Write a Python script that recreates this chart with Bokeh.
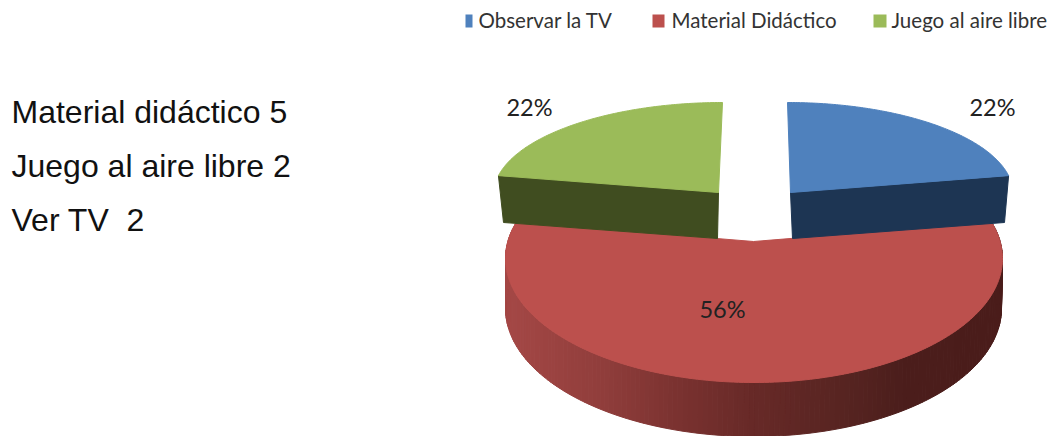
import numpy as np
from bokeh.plotting import figure
from bokeh.models import Range1d
from bokeh.core.properties import value
from bokeh.embed import file_html
from bokeh.resources import INLINE

# data
categories = ["Observar la TV", "Material Didáctico", "Juego al aire libre"]
shares = [22, 56, 22]
pct_labels = ["22%", "56%", "22%"]
note_names = ["Material didáctico", "Juego al aire libre", "Ver TV\u00a0"]
note_counts = [5, 2, 2]

# styles and layout (page pixels of the reference)
top_colors = ["#4F81BD", "#BC504D", "#9BBB59"]
rim_colors = ["#1D3553", None, "#404D20"]
red_rim_stops = [(505, (165, 72, 70)), (600, (145, 62, 60)), (680, (122, 50, 48)),
                 (750, (104, 42, 40)), (850, (86, 36, 33)), (900, (76, 30, 28)),
                 (1003, (74, 28, 26))]
# outer slices: apex, radii, lean of the back edge, bottom of the side face
blue_geo = dict(cx=790, cy=192, rx=222.6, ry=90, lean=-3, ax=792, ay=238, ex=1004, ey=222)
green_geo = dict(cx=718, cy=192, rx=224.8, ry=90, lean=4, ax=717, ay=238, ex=503, ey=222)
# large slice: apex, top ellipse, bottom ellipse, angle added for the perspective
red_geo = dict(ax=753, ay=241, cx=753.5, cy=258, rx=248.5, ry=124,
               bx=753, by=308, brx=248, bry=128, trim=np.radians(6.2))
legend_swatch = [(465, 472), (652, 664), (873, 886)]
legend_text_x = [478, 671, 891]
pct_pos = [(992, 106), (722, 308), (529, 106)]
note_y = [111, 165, 219]

W, H = 1052, 436
p = figure(width=W, height=H, output_backend="svg", toolbar_location=None,
           x_range=Range1d(0, W), y_range=Range1d(H, 0),
           min_border=0, outline_line_color=None, border_fill_color="white",
           background_fill_color="white", tools="")
p.axis.visible = False
p.grid.visible = False

cum = np.cumsum([0] + shares) / sum(shares) * 2 * np.pi
a0, a1 = cum[:-1], cum[1:]

# large slice: gradient rim in strips, then its top
g = red_geo
t = np.linspace(a0[1] - g["trim"], a1[1] + g["trim"], 181)
tx = g["cx"] + g["rx"] * np.sin(t)
ty = g["cy"] - g["ry"] * np.cos(t)
bx = g["bx"] + g["brx"] * np.sin(t)
by = g["by"] - g["bry"] * np.cos(t)
stop_x = [s[0] for s in red_rim_stops]
for i in range(len(t) - 1):
    xm = (bx[i] + bx[i + 1]) / 2
    c = [int(np.interp(xm, stop_x, [s[1][k] for s in red_rim_stops])) for k in range(3)]
    col = "#%02x%02x%02x" % tuple(c)
    p.patch([tx[i], tx[i + 1], bx[i + 1], bx[i]], [ty[i], ty[i + 1], by[i + 1], by[i]],
            fill_color=col, line_color=col, line_width=1)
p.patch(np.r_[g["ax"], tx], np.r_[g["ay"], ty], fill_color=top_colors[1],
        line_color=top_colors[1], line_width=1)

# outer slices: radial side face, then top
for idx, g, edge in [(0, blue_geo, a1[0]), (2, green_geo, a0[2])]:
    s = np.linspace(a0[idx], a1[idx], 120)
    xs = g["cx"] + g["rx"] * np.sin(s) + g["lean"] * np.cos(s)
    ys = g["cy"] - g["ry"] * np.cos(s)
    corner_x = g["cx"] + g["rx"] * np.sin(edge) + g["lean"] * np.cos(edge)
    corner_y = g["cy"] - g["ry"] * np.cos(edge)
    p.patch([g["cx"], corner_x, g["ex"], g["ax"]], [g["cy"], corner_y, g["ey"], g["ay"]],
            fill_color=rim_colors[idx], line_color=rim_colors[idx], line_width=1)
    p.patch(np.r_[g["cx"], xs], np.r_[g["cy"], ys], fill_color=top_colors[idx],
            line_color=top_colors[idx], line_width=1)

# percent labels
p.text([q[0] for q in pct_pos], [q[1] for q in pct_pos], text=pct_labels,
       text_font=value("Lato"), text_font_size="23.5px", text_color="#222222",
       text_align="center", text_baseline="middle")

# legend
p.quad(left=[s[0] for s in legend_swatch], right=[s[1] for s in legend_swatch],
       top=[14] * 3, bottom=[27] * 3, fill_color=top_colors, line_color=None)
p.text(legend_text_x, [19] * 3, text=categories, text_font=value("Lato"),
       text_font_size="20.5px", text_color="#333333", text_align="left",
       text_baseline="middle")

# notes on the left
notes = [f"{n} {c}" for n, c in zip(note_names, note_counts)]
p.text([11] * 3, note_y, text=notes, text_font=value("Liberation Sans"),
       text_font_size="32px", text_color="#111111", text_align="left",
       text_baseline="middle")

open("out.html", "w").write(file_html(p, INLINE))
